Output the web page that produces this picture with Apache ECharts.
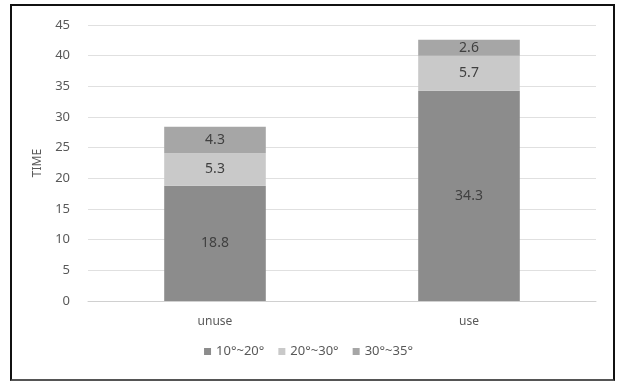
<!DOCTYPE html>
<html>
<head>
<meta charset="utf-8">
<script src="https://cdn.jsdelivr.net/npm/echarts@6/dist/echarts.min.js"></script>
<style>
  html, body { margin: 0; padding: 0; background: #fff; }
  #chart { width: 617px; height: 381px; position: absolute; left: 0; top: 0; }
  #frame { position: absolute; left: 10px; top: 4px; width: 605px; height: 377px;
           box-sizing: border-box; border: 2px solid #111; border-bottom-color: #555; pointer-events: none; }
</style>
</head>
<body>
<div id="chart"></div>
<div id="frame"></div>
<script>
  // 数据
  const categories = ['unuse', 'use'];
  const seriesNames = ['10°~20°', '20°~30°', '30°~35°'];
  const low = [18.8, 34.3];
  const mid = [5.3, 5.7];
  const high = [4.3, 2.6];
  const colors = ['#8c8c8c', '#c9c9c9', '#a6a6a6'];

  const chart = echarts.init(document.getElementById('chart'));
  const label = {
    show: true,
    position: 'inside',
    color: '#404040',
    fontSize: 14,
    fontFamily: 'Noto Sans'
  };
  const values = [low, mid, high];
  const series = seriesNames.map((name, i) => ({
    name: name,
    type: 'bar',
    stack: 'total',
    barWidth: '40%',
    itemStyle: { color: colors[i] },
    label: label,
    data: values[i]
  }));

  chart.setOption({
    animation: false,
    textStyle: { fontFamily: 'Noto Sans' },
    color: colors,
    grid: { left: 88, right: 21, top: 25, bottom: 80 },
    legend: {
      bottom: 18,
      left: 'center',
      itemWidth: 7,
      itemHeight: 7,
      itemGap: 14,
      icon: 'rect',
      textStyle: { color: '#595959', fontSize: 13 },
      data: seriesNames
    },
    xAxis: {
      type: 'category',
      data: categories,
      axisLine: { lineStyle: { color: '#d0d0d0' } },
      axisTick: { show: false },
      axisLabel: { color: '#595959', fontSize: 12, margin: 15 }
    },
    yAxis: {
      type: 'value',
      min: 0,
      max: 45,
      interval: 5,
      name: 'TIME',
      nameLocation: 'middle',
      nameGap: 44,
      nameTextStyle: { color: '#595959', fontSize: 12 },
      axisLine: { show: false },
      axisTick: { show: false },
      axisLabel: { color: '#595959', fontSize: 13, margin: 18 },
      splitLine: { lineStyle: { color: '#e0e0e0' } }
    },
    series: series
  });
</script>
</body>
</html>
